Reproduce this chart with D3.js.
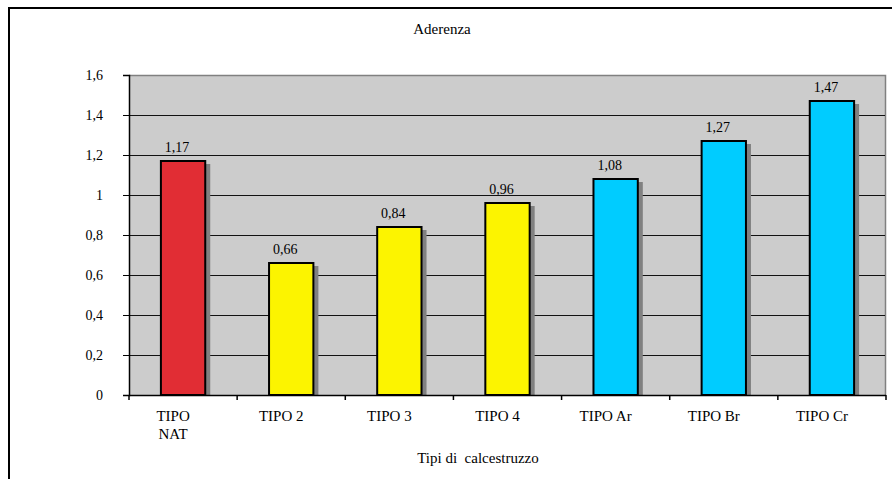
<!DOCTYPE html>
<html>
<head>
<meta charset="utf-8">
<script src="https://cdnjs.cloudflare.com/ajax/libs/d3/7.8.5/d3.min.js"></script>
<style>
  html, body { margin: 0; padding: 0; background: #fff; }
</style>
</head>
<body>
<svg id="chart" width="892" height="479" font-family="Liberation Serif, Tinos, DejaVu Serif, serif"></svg>
<script>
// Adherence by concrete type
const categories = ["TIPO\nNAT", "TIPO 2", "TIPO 3", "TIPO 4", "TIPO Ar", "TIPO Br", "TIPO Cr"];
const values = [1.17, 0.66, 0.84, 0.96, 1.08, 1.27, 1.47];
const barColors = ["#e12d34", "#fcf400", "#fcf400", "#fcf400", "#00ccff", "#00ccff", "#00ccff"];
const yTicks = [0, 0.2, 0.4, 0.6, 0.8, 1, 1.2, 1.4, 1.6];
const chartTitle = "Aderenza";
const xTitle = "Tipi di  calcestruzzo";

const FONT = "Liberation Serif, Tinos, DejaVu Serif, serif";
const svg = d3.select("#chart");
const fmt = v => String(v).replace(".", ",");

const plot = { left: 129, right: 886, top: 75, bottom: 395 };

// outer frame
svg.append("rect")
  .attr("x", 9).attr("y", 8)
  .attr("width", 890).attr("height", 480)
  .attr("fill", "#fff").attr("stroke", "#000").attr("stroke-width", 2);

const x = d3.scaleBand().domain(categories).range([plot.left, plot.right]).padding(0);
const y = d3.scaleLinear().domain([0, 1.6]).range([plot.bottom, plot.top]);

// plot background
svg.append("rect")
  .attr("x", plot.left).attr("y", plot.top)
  .attr("width", plot.right - plot.left).attr("height", plot.bottom - plot.top)
  .attr("fill", "#cccccc");
svg.append("path")
  .attr("d", `M${plot.left},${plot.top + 0.5}H${plot.right - 0.5}V${plot.bottom}`)
  .attr("fill", "none").attr("stroke", "#808080").attr("stroke-width", 1.5);

// gridlines
svg.append("g").selectAll("line")
  .data(yTicks.filter(t => t > 0 && t < 1.6))
  .join("line")
  .attr("x1", plot.left).attr("x2", plot.right - 1)
  .attr("y1", d => Math.round(y(d)) + 0.5).attr("y2", d => Math.round(y(d)) + 0.5)
  .attr("stroke", "#111").attr("stroke-width", 1);

// bars with drop shadow
const barW = x.bandwidth() * 0.41;
const bars = svg.append("g");
bars.selectAll("rect.shadow")
  .data(values)
  .join("rect")
  .attr("class", "shadow")
  .attr("x", (d, i) => x(categories[i]) + (x.bandwidth() - barW) / 2 + 5)
  .attr("y", d => y(d) + 3)
  .attr("width", barW)
  .attr("height", d => y(0) - y(d) - 3)
  .attr("fill", "#808080");
bars.selectAll("rect.bar")
  .data(values)
  .join("rect")
  .attr("class", "bar")
  .attr("x", (d, i) => x(categories[i]) + (x.bandwidth() - barW) / 2)
  .attr("y", d => y(d))
  .attr("width", barW)
  .attr("height", d => y(0) - y(d))
  .attr("fill", (d, i) => barColors[i])
  .attr("stroke", "#000").attr("stroke-width", 2);

// value labels
svg.append("g").selectAll("text")
  .data(values)
  .join("text")
  .attr("x", (d, i) => x(categories[i]) + x.bandwidth() / 2 - 6)
  .attr("y", d => y(d) - 9)
  .attr("text-anchor", "middle")
  .attr("font-family", FONT)
  .attr("font-size", 14)
  .text(d => fmt(d));

// y axis
const yAxis = svg.append("g")
  .attr("transform", `translate(${plot.left},0)`)
  .call(d3.axisLeft(y).tickValues(yTicks).tickSize(6).tickPadding(20).tickFormat(fmt));
yAxis.attr("font-family", FONT).attr("font-size", 14);
yAxis.select(".domain").attr("stroke", "#000").attr("stroke-width", 1.5);
yAxis.selectAll(".tick line").attr("stroke", "#000");
yAxis.selectAll(".tick text").attr("fill", "#000");

// x axis: ticks at band boundaries
const xAxis = svg.append("g");
xAxis.append("line")
  .attr("x1", plot.left).attr("x2", plot.right)
  .attr("y1", plot.bottom + 0.5).attr("y2", plot.bottom + 0.5)
  .attr("stroke", "#000").attr("stroke-width", 1.5);
const bounds = categories.map(c => x(c)).concat([plot.right]);
xAxis.selectAll("line.tick")
  .data(bounds)
  .join("line")
  .attr("class", "tick")
  .attr("x1", d => d).attr("x2", d => d)
  .attr("y1", plot.bottom).attr("y2", plot.bottom + 5)
  .attr("stroke", "#000").attr("stroke-width", 1.5);

const catLabels = xAxis.selectAll("text")
  .data(categories)
  .join("text")
  .attr("text-anchor", "middle")
  .attr("font-family", FONT)
  .attr("font-size", 15);
catLabels.each(function (d) {
  const t = d3.select(this);
  const cx = x(d) + x.bandwidth() / 2 - 10;
  d.split("\n").forEach((line, k) => {
    t.append("tspan").attr("x", cx).attr("y", 421 + k * 18).text(line);
  });
});

// titles
svg.append("text")
  .attr("x", 442).attr("y", 34)
  .attr("text-anchor", "middle")
  .attr("font-family", FONT)
  .attr("font-size", 15)
  .text(chartTitle);
svg.append("text")
  .attr("x", 478).attr("y", 463)
  .attr("text-anchor", "middle")
  .attr("font-family", FONT)
  .attr("font-size", 15)
  .style("white-space", "pre")
  .text(xTitle);
</script>
</body>
</html>
